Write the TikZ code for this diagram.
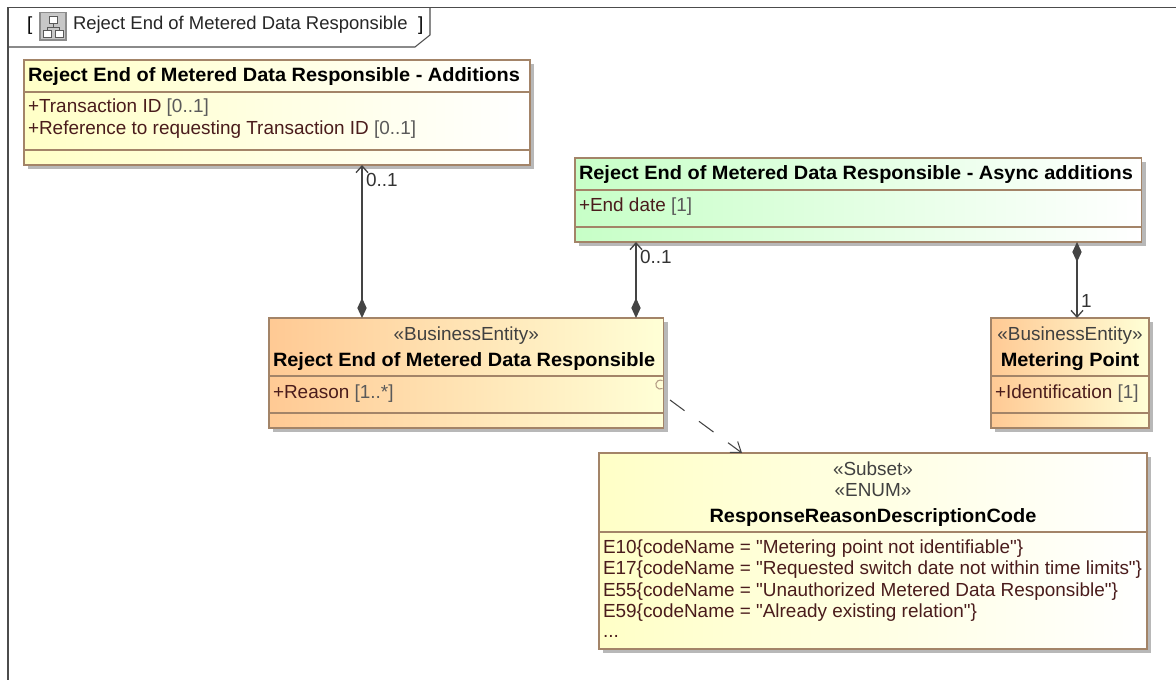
\documentclass[tikz,border=0pt]{standalone}
\usepackage{fontspec}
\setmainfont[Ligatures=TeXOff,BoldFeatures={FakeStretch=1.035}]{Liberation Sans}
\usetikzlibrary{arrows.meta,shadows,calc}
\definecolor{bordr}{HTML}{A38468}
\definecolor{attrc}{HTML}{4A1C1C}
\definecolor{multc}{HTML}{5A5A5A}
\definecolor{linec}{HTML}{444444}
\newcommand{\mult}[1]{\textcolor{multc}{#1}}
\tikzset{
  x=0.75pt,y=-0.75pt,
  every node/.style={inner sep=0pt,outer sep=0pt,font=\fontsize{14.2pt}{16pt}\selectfont},
  box/.style={draw=bordr,line width=1pt,anchor=north west,
    drop shadow={shadow xshift=3pt,shadow yshift=-3pt,fill=black!28,opacity=1}},
  yellowbox/.style={box,left color=yellow!22!white,right color=white},
  greenbox/.style={box,left color=green!22!white,right color=white},
  orangebox/.style={box,left color=orange!42!white,right color=yellow!16!white},
  divider/.style={draw=bordr,line width=1pt},
  titletext/.style={anchor=base,font=\fontsize{14.45pt}{16pt}\selectfont\bfseries,text=black},
  titleleft/.style={titletext,anchor=base west},
  stereo/.style={anchor=base,text=black!75},
  attr/.style={anchor=base west,text=attrc},
  multlabel/.style={anchor=base west,text=black!80},
  assoc/.style={draw=linec,line width=1pt,{Diamond[length=15pt,width=7pt,fill=linec]}-{Straight Barb[length=5pt,width=9pt]}},
  depend/.style={draw=linec,line width=0.8pt,dash pattern=on 13.5pt off 13.5pt,-{Straight Barb[length=7pt,width=10pt]}},
  framel/.style={draw=black!70,line width=0.8pt}
}
\begin{document}
\begin{tikzpicture}
\useasboundingbox (0,0) rectangle (1176,680);
% frame
\coordinate (frameTL) at (8,7.5);
\coordinate (frameBL) at (8,680);
\coordinate (frameTR) at (1176,7.5);
\draw[framel] (frameBL) -- (frameTL) -- (frameTR);
\draw[framel] (8,47) -- (415,47) -- (430,35) -- (430,7.5);
\node[anchor=base west] (tabl) at (27,31) {[};
\draw[draw=black!45,fill=black!22,line width=.8pt] (40,12.5) rectangle (66,40);
\draw[draw=black!65,line width=.7pt,fill=white] (49,16) rectangle (57,23)
  (43,30.5) rectangle (51,37) (55,30.5) rectangle (63,37);
\draw[draw=black!65,line width=.7pt] (53,23) -- (53,27) (47,30.5) -- (47,27) -- (59,27) -- (59,30.5);
\node[anchor=base west,text=black!85,font=\fontsize{13.85pt}{16pt}\selectfont] (tabt) at (73,30) {Reject End of Metered Data Responsible};
\node[anchor=base west] (tabr) at (418,31) {]};
% boxes
\node[yellowbox,minimum width=379.5pt,minimum height=78.75pt] (add) at (24,60) {};
\node[greenbox,minimum width=425pt,minimum height=63pt] (asy) at (575,158) {};
\node[orangebox,minimum width=296pt,minimum height=82.5pt] (rej) at (269,318) {};
\node[orangebox,minimum width=118.5pt,minimum height=82.5pt] (met) at (991,318) {};
\node[yellowbox,minimum width=411pt,minimum height=147pt] (enu) at (599,453) {};
% dividers
\draw[divider] (add.west |- 0,92) -- (add.east |- 0,92);
\draw[divider] (add.west |- 0,150) -- (add.east |- 0,150);
\draw[divider] (asy.west |- 0,190) -- (asy.east |- 0,190);
\draw[divider] (asy.west |- 0,227) -- (asy.east |- 0,227);
\draw[divider] (rej.west |- 0,376) -- (rej.east |- 0,376);
\draw[divider] (rej.west |- 0,413) -- (rej.east |- 0,413);
\draw[divider] (met.west |- 0,376) -- (met.east |- 0,376);
\draw[divider] (met.west |- 0,413) -- (met.east |- 0,413);
\draw[divider] (enu.west |- 0,532) -- (enu.east |- 0,532);
% texts
\node[titleleft] (addT) at (28,82) {Reject End of Metered Data Responsible - Additions};
\node[attr] (addA) at (28,113) {+Transaction ID \mult{[0..1]}};
\node[attr] (addB) at (28,134.5) {+Reference to requesting Transaction ID \mult{[0..1]}};
\node[titleleft] (asyT) at (579,180) {Reject End of Metered Data Responsible - Async additions};
\node[attr] (asyA) at (579,212) {+End date \mult{[1]}};
\node[stereo] (rejS) at (rej.center |- 0,340) {«BusinessEntity»};
\node[titleleft] (rejT) at (273,367) {Reject End of Metered Data Responsible};
\node[attr] (rejA) at (273,398) {+Reason \mult{[1..*]}};
\node[stereo] (metS) at (met.center |- 0,340) {«BusinessEntity»};
\node[titletext] (metT) at (met.center |- 0,367) {Metering Point};
\node[attr] (metA) at (995,398) {+Identification \mult{[1]}};
\node[stereo] (enuS) at (enu.center |- 0,475) {«Subset»};
\node[stereo] (enuN) at (enu.center |- 0,496) {«ENUM»};
\node[titletext] (enuT) at (enu.center |- 0,522) {ResponseReasonDescriptionCode};
\node[attr] (enuA) at (603,553) {E10\{codeName = "Metering point not identifiable"\}};
\node[attr] (enuB) at (603,574) {E17\{codeName = "Requested switch date not within time limits"\}};
\node[attr] (enuC) at (603,596) {E55\{codeName = "Unauthorized Metered Data Responsible"\}};
\node[attr] (enuD) at (603,617) {E59\{codeName = "Already existing relation"\}};
\node[attr] (enuE) at (603,637) {...};
% connectors
\coordinate (c1) at (362,0);
\coordinate (c2) at (636,0);
\coordinate (c3) at (1077,0);
\draw[assoc] (c1 |- rej.north) -- (c1 |- add.south);
\draw[assoc] (c2 |- rej.north) -- (c2 |- asy.south);
\draw[assoc] (c3 |- asy.south) -- (c3 |- met.north);
\node[multlabel] (m1) at (366,187) {0..1};
\node[multlabel] (m2) at (640,264) {0..1};
\node[multlabel] (m3) at (1081,308) {1};
\coordinate (depS) at (670,400);
\coordinate (depE) at (742,453);
\draw[depend] (depS) -- (depE);
\draw[draw=bordr!80,line width=.8pt] (662.5,388.5) arc[start angle=60,end angle=300,radius=4.5];
\end{tikzpicture}
\end{document}
